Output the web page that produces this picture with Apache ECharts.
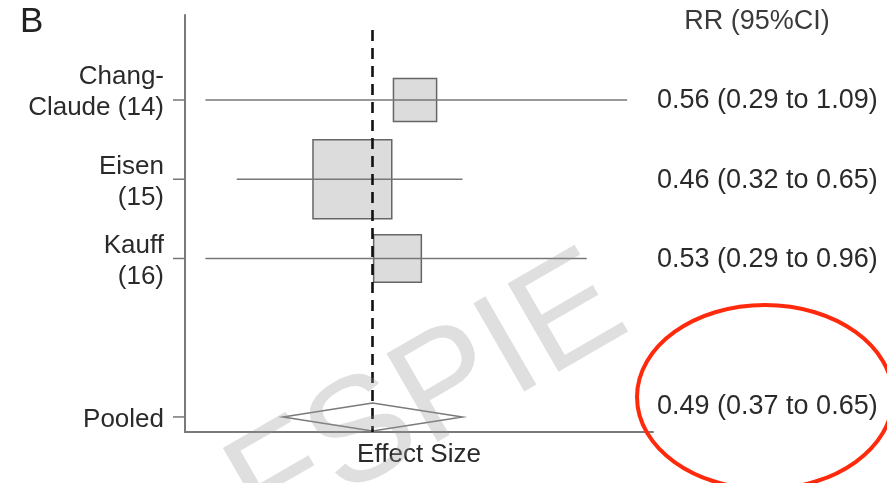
<!DOCTYPE html>
<html>
<head>
<meta charset="utf-8">
<script src="https://cdn.jsdelivr.net/npm/echarts@6/dist/echarts.min.js"></script>
<style>
  html, body { margin: 0; padding: 0; background: #fff; }
  #chart { width: 887px; height: 483px; }
</style>
</head>
<body>
<div id="chart"></div>
<script>
// Forest plot: risk ratios with 95% confidence intervals per study, plus the pooled estimate.
const panelTag = 'B';
const rrHeader = 'RR (95%CI)';
const axisTitle = 'Effect Size';
const watermarkText = 'FSPIE';

const studies = ['Chang-\nClaude (14)', 'Eisen\n(15)', 'Kauff\n(16)'];
const rrEst = [0.56, 0.46, 0.53];
const rrLow = [0.29, 0.32, 0.29];
const rrHigh = [1.09, 0.65, 0.96];
const studyWeight = [18, 60, 22]; // percent weight, sets box area

const pooledLabel = 'Pooled';
const pooledEst = 0.49;
const pooledLow = 0.37;
const pooledHigh = 0.65;

const FONT = "'Liberation Sans', Arial, Helvetica, sans-serif";
const TEXT = '#2a2a2a';

const fmt = (e, l, h) => `${e.toFixed(2)} (${l.toFixed(2)} to ${h.toFixed(2)})`;

// study rows take slots 0..n-1, one empty slot, then the pooled row
const pooledSlot = studies.length + 1;
const studyRows = studies.map((s, i) => [rrEst[i], i, rrLow[i], rrHigh[i], studyWeight[i]]);
const pooledRow = [pooledEst, pooledSlot, pooledLow, pooledHigh];
const labelRows = studies.map((s, i) => [rrEst[i], i, s, fmt(rrEst[i], rrLow[i], rrHigh[i])])
  .concat([[pooledEst, pooledSlot, pooledLabel, fmt(pooledEst, pooledLow, pooledHigh)]]);

const chart = echarts.init(document.getElementById('chart'), null, { renderer: 'canvas' });

const option = {
  backgroundColor: '#fff',
  animation: false,
  grid: { left: 185, right: 234, top: 15, bottom: 51 },
  xAxis: {
    type: 'log',
    logBase: 10,
    min: 0.272,
    max: 1.182,
    name: axisTitle,
    nameLocation: 'middle',
    nameGap: 10,
    nameTextStyle: { fontFamily: FONT, fontSize: 26, color: TEXT, verticalAlign: 'top' },
    axisLine: { show: true, onZero: false, lineStyle: { color: '#7a7a7a', width: 2 } },
    axisTick: { show: false },
    axisLabel: { show: false },
    splitLine: { show: false }
  },
  yAxis: {
    type: 'value',
    inverse: true,
    min: -1.073,
    max: 4.19,
    axisLine: { show: true, onZero: false, lineStyle: { color: '#7a7a7a', width: 2 } },
    axisTick: { show: false },
    axisLabel: { show: false },
    splitLine: { show: false }
  },
  graphic: [
    {
      type: 'text', left: 20, top: 5, silent: true,
      style: { text: panelTag, fontFamily: FONT, fontSize: 35, fill: '#222' }
    },
    {
      type: 'text', x: 757, y: 22, silent: true,
      style: { text: rrHeader, fontFamily: FONT, fontSize: 27, fill: '#3a3a3a', align: 'center', verticalAlign: 'middle' }
    },
    {
      type: 'text', x: 428, y: 400, rotation: Math.PI / 6, silent: true, z: 50,
      style: { text: watermarkText, fontFamily: FONT, fontSize: 148, fill: 'rgba(150,150,150,0.3)', align: 'center', verticalAlign: 'middle' }
    },
    {
      type: 'ellipse', silent: true, z: 60,
      shape: { cx: 765, cy: 397, rx: 128, ry: 92 },
      style: { fill: 'none', stroke: '#ff2a0c', lineWidth: 4 }
    }
  ],
  series: [
    {
      // weighted study boxes
      type: 'custom', clip: false, z: 2,
      data: studyRows,
      encode: { x: 0, y: 1 },
      renderItem: (params, api) => {
        const c = api.coord([api.value(0), api.value(1)]);
        const side = 10.17 * Math.sqrt(api.value(4));
        return {
          type: 'rect',
          shape: { x: c[0] - side / 2, y: c[1] - side / 2, width: side, height: side },
          style: { fill: '#dcdcdc', stroke: '#666', lineWidth: 1.5 }
        };
      }
    },
    {
      // confidence interval whiskers
      type: 'custom', clip: false, z: 3,
      data: studyRows,
      encode: { x: [2, 3], y: 1 },
      renderItem: (params, api) => {
        const a = api.coord([api.value(2), api.value(1)]);
        const b = api.coord([api.value(3), api.value(1)]);
        return {
          type: 'line',
          shape: { x1: a[0], y1: a[1], x2: b[0], y2: b[1] },
          style: { stroke: '#777', lineWidth: 1.5 }
        };
      }
    },
    {
      // pooled estimate diamond
      type: 'custom', clip: false, z: 3,
      data: [pooledRow],
      encode: { x: [0, 2, 3], y: 1 },
      renderItem: (params, api) => {
        const m = api.coord([api.value(0), api.value(1)]);
        const l = api.coord([api.value(2), api.value(1)]);
        const r = api.coord([api.value(3), api.value(1)]);
        const h = 14;
        return {
          type: 'polygon',
          shape: { points: [[l[0], m[1]], [m[0], m[1] - h], [r[0], m[1]], [m[0], m[1] + h]] },
          style: { fill: 'none', stroke: '#7a7a7a', lineWidth: 1.5 }
        };
      }
    },
    {
      // vertical dashed reference at the pooled estimate
      type: 'custom', clip: false, z: 4,
      data: [[pooledEst]],
      encode: { x: 0 },
      renderItem: (params, api) => {
        const cs = params.coordSys;
        const x = api.coord([api.value(0), 0])[0];
        return {
          type: 'line',
          shape: { x1: x, y1: cs.y + 15, x2: x, y2: cs.y + cs.height },
          style: { stroke: '#111', lineWidth: 2.6, lineDash: [11, 7] }
        };
      }
    },
    {
      // row ticks, row names and RR text
      type: 'custom', clip: false, z: 5,
      data: labelRows,
      encode: { x: 0, y: 1 },
      renderItem: (params, api) => {
        const cs = params.coordSys;
        const row = labelRows[params.dataIndex];
        const y = api.coord([api.value(0), api.value(1)])[1];
        const isPooled = params.dataIndex === labelRows.length - 1;
        const isFirst = params.dataIndex === 0;
        return {
          type: 'group',
          children: [
            {
              type: 'line',
              shape: { x1: cs.x - 12, y1: y, x2: cs.x, y2: y },
              style: { stroke: '#777', lineWidth: 1.5 }
            },
            {
              type: 'text',
              style: {
                text: row[2], x: cs.x - 21, y: isFirst ? y - 8 : y + 3,
                align: 'right', verticalAlign: 'middle',
                fontFamily: FONT, fontSize: 26, lineHeight: 31, fill: TEXT
              }
            },
            {
              type: 'text',
              style: {
                text: row[3], x: cs.x + cs.width + 4, y: isPooled ? y - 10 : y + 1,
                align: 'left', verticalAlign: 'middle',
                fontFamily: FONT, fontSize: 27, fill: TEXT
              }
            }
          ]
        };
      }
    }
  ]
};

chart.setOption(option);
</script>
</body>
</html>
